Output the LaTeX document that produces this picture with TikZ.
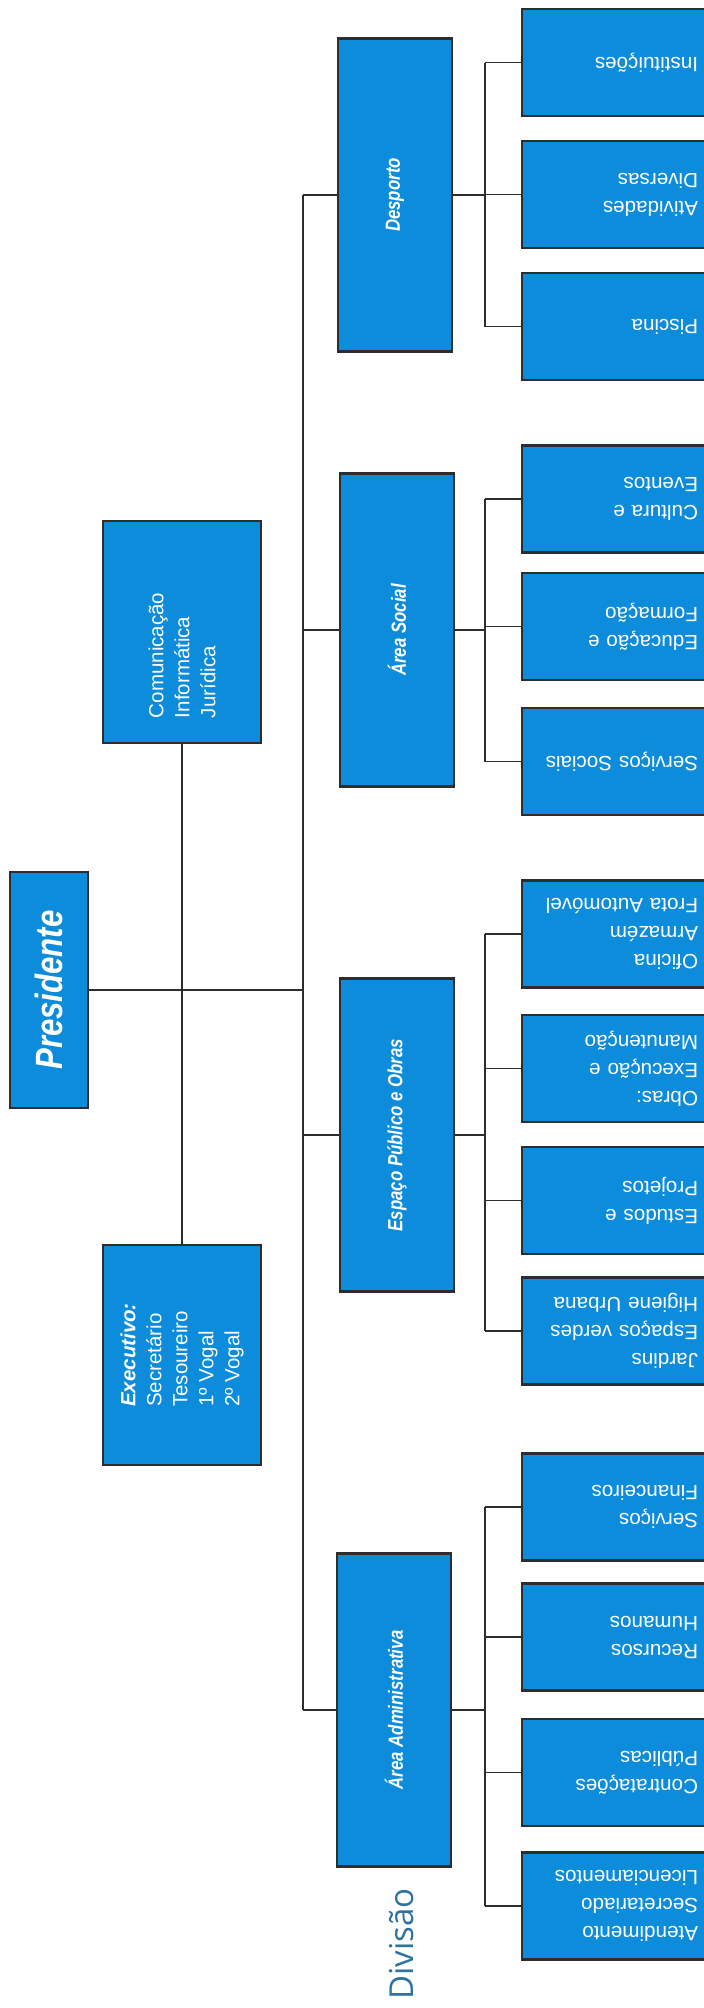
\documentclass[tikz,border=0pt]{standalone}
\usepackage{fontspec}
\setmainfont{Liberation Sans}
\newfontfamily\narrowfont{Liberation Sans}[FakeStretch=0.82]
\newfontfamily\divfont{Open Sans}
\definecolor{boxblue}{RGB}{12,140,218}
\definecolor{edgegray}{RGB}{45,45,45}
\definecolor{divblue}{RGB}{45,115,160}
\begin{document}
\begin{tikzpicture}[x=1pt,y=-1pt,
  box/.style={draw=edgegray, line width=2.5pt, fill=boxblue, text=white, inner sep=0pt},
  midbox/.style={box, rotate=90, minimum width=313pt, minimum height=114pt,
    font=\narrowfont\bfseries\itshape\fontsize{20.5}{24}\selectfont},
  leaf/.style={box, rotate=180, minimum height=107pt, text width=162pt, inner xsep=14pt,
    align=left, font=\fontsize{20.6}{28}\selectfont},
  conn/.style={draw=edgegray, line width=1.8pt}]
\useasboundingbox (0,0) rectangle (704,2008);
\fill[white] (0,0) rectangle (704,2008);
\clip (0,0) rectangle (704,2008);

\coordinate (bus) at (303,0);
\coordinate (sb) at (485,0);

% top level
\node[box, rotate=90, minimum width=236pt, minimum height=78pt,
  font=\narrowfont\bfseries\itshape\fontsize{38}{42}\selectfont] (pres) at (49,990) {Presidente};
\node[box, rotate=90, minimum width=222pt, minimum height=158pt, text width=172pt,
  inner xsep=25pt, align=left, font=\fontsize{20.5}{26}\selectfont] (comm) at (182,632)
  {Comunicação\\Informática\\Jurídica};
\node[box, rotate=90, minimum width=220pt, minimum height=158pt, align=left,
  font=\fontsize{20.5}{26}\selectfont] (exec) at (182,1355)
  {\textbf{\textit{Executivo:}}\\Secretário\\Tesoureiro\\1º Vogal\\2º Vogal};

% divisions
\node[midbox] (desp) at (395,195) {Desporto};
\node[midbox] (soc) at (397,630) {Área Social};
\node[midbox] (esp) at (397,1135) {Espaço Público e Obras};
\node[midbox] (adm) at (394,1710) {Área Administrativa};

% leaves
\node[leaf] (l1) at (617,62.5) {Instituições};
\node[leaf] (l2) at (617,194.5) {Atividades\\Diversas};
\node[leaf] (l3) at (617,326.5) {Piscina};
\node[leaf] (l4) at (617,499) {Cultura e\\Eventos};
\node[leaf] (l5) at (617,626.5) {Educação e\\Formação};
\node[leaf] (l6) at (617,761.5) {Serviços Sociais};
\node[leaf] (l7) at (617,934) {Oficina\\Armazém\\Frota Automóvel};
\node[leaf] (l8) at (617,1068.5) {Obras:\\Execução e\\Manutenção};
\node[leaf] (l9) at (617,1200.5) {Estudos e\\Projetos};
\node[leaf] (l10) at (617,1331) {Jardins\\Espaços verdes\\Higiene Urbana};
\node[leaf] (l11) at (617,1507) {Serviços\\Financeiros};
\node[leaf] (l12) at (617,1637) {Recursos\\Humanos};
\node[leaf] (l13) at (617,1772.5) {Contratações\\Públicas};
\node[leaf] (l14) at (617,1906) {Atendimento\\Secretariado\\Licenciamentos};

\node[rotate=90, anchor=base west, inner sep=0pt, text=divblue,
  font=\divfont\fontsize{33}{38}\selectfont] (div) at (413,2000) {Divisão};

% connectors
\draw[conn] (pres.south) -- (pres.south -| bus);
\draw[conn] (comm.west) -- (exec.east);
\draw[conn] (desp.north -| bus) -- (adm.north -| bus);
\foreach \m in {desp,soc,esp,adm} \draw[conn] (\m.north -| bus) -- (\m.north);
\foreach \m in {desp,soc,esp,adm} \draw[conn] (\m.south) -- (\m.south -| sb);
\draw[conn] (l1.east -| sb) -- (l3.east -| sb);
\draw[conn] (l4.east -| sb) -- (l6.east -| sb);
\draw[conn] (l7.east -| sb) -- (l10.east -| sb);
\draw[conn] (l11.east -| sb) -- (l14.east -| sb);
\foreach \l in {l1,l2,l3,l4,l5,l6,l7,l8,l9,l10,l11,l12,l13,l14}
  \draw[conn] (\l.east -| sb) -- (\l.east);
\end{tikzpicture}
\end{document}
